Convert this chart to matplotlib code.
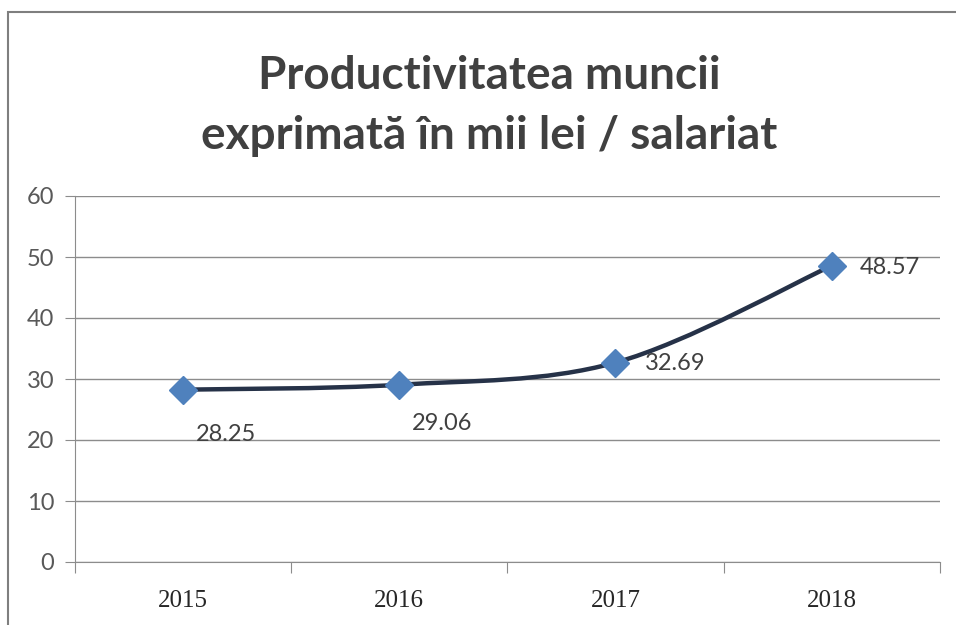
import matplotlib.pyplot as plt
from matplotlib.path import Path
from matplotlib.patches import PathPatch, Rectangle

years = ["2015", "2016", "2017", "2018"]
values = [28.25, 29.06, 32.69, 48.57]
label_offsets = [(31, -32), (31, -28), (43, -1), (42, -1)]

fig = plt.figure(figsize=(9.56, 6.25), dpi=100)
ax = fig.add_axes([0.0785, 0.1008, 0.9045, 0.5856])

# outer chart border
fig.patches.append(Rectangle((8 / 956, -0.05), 1.2, (625 - 12) / 625 + 0.05,
                             transform=fig.transFigure, fill=False,
                             edgecolor="#7f7f7f", linewidth=1.5))

fig.text(0.512, 0.878, "Productivitatea muncii", ha="center", va="center",
         fontsize=33, fontweight="bold", family="Lato", color="#404040")
fig.text(0.512, 0.783, "exprimată în mii lei / salariat", ha="center", va="center",
         fontsize=33, fontweight="bold", family="Lato", color="#404040")

xs = list(range(len(values)))

# smoothed line (Catmull-Rom style bezier through the data points)
verts = [(xs[0], values[0])]
codes = [Path.MOVETO]
for i in range(len(xs) - 1):
    x0, y0 = (xs[i - 1], values[i - 1]) if i > 0 else (xs[i], values[i])
    x1, y1 = xs[i], values[i]
    x2, y2 = xs[i + 1], values[i + 1]
    x3, y3 = (xs[i + 2], values[i + 2]) if i + 2 < len(xs) else (x2, y2)
    c1 = (x1 + (x2 - x0) / 6, y1 + (y2 - y0) / 6)
    c2 = (x2 - (x3 - x1) / 6, y2 - (y3 - y1) / 6)
    verts += [c1, c2, (x2, y2)]
    codes += [Path.CURVE4] * 3
ax.add_patch(PathPatch(Path(verts, codes), fill=False, edgecolor="#263248",
                       linewidth=3.2, zorder=3, capstyle="round"))

ax.plot(xs, values, linestyle="none", marker="D", markersize=14,
        color="#4f81bd", zorder=4)

for x, v, off in zip(xs, values, label_offsets):
    ax.annotate(f"{v:.2f}", (x, v), xytext=off, textcoords="offset points",
                ha="center", va="center", fontsize=17, family="Lato",
                color="#404040")

ax.set_xlim(-0.5, 3.5)
ax.set_ylim(0, 60)
ax.set_yticks(range(0, 61, 10))
ax.set_xticks([-0.5, 0.5, 1.5, 2.5, 3.5])
ax.set_xticklabels([])
ax.set_xticks(xs, minor=True)
ax.set_xticklabels(years, minor=True)
ax.tick_params(axis="x", which="major", length=8, direction="out", color="#8c8c8c")
ax.tick_params(axis="x", which="minor", length=0, pad=20, labelsize=18,
               labelcolor="#262626")
for lab in ax.get_xticklabels(minor=True):
    lab.set_family("Liberation Serif")
ax.tick_params(axis="y", length=7, color="#8c8c8c", labelsize=17,
               labelcolor="#595959", pad=8)
for lab in ax.get_yticklabels():
    lab.set_family("Lato")

ax.grid(axis="y", color="#8c8c8c", linewidth=1)
ax.set_axisbelow(True)
for s in ["top", "right"]:
    ax.spines[s].set_visible(False)
ax.spines["left"].set_color("#8c8c8c")
ax.spines["bottom"].set_color("#8c8c8c")

fig.savefig("out.png", dpi=100)
